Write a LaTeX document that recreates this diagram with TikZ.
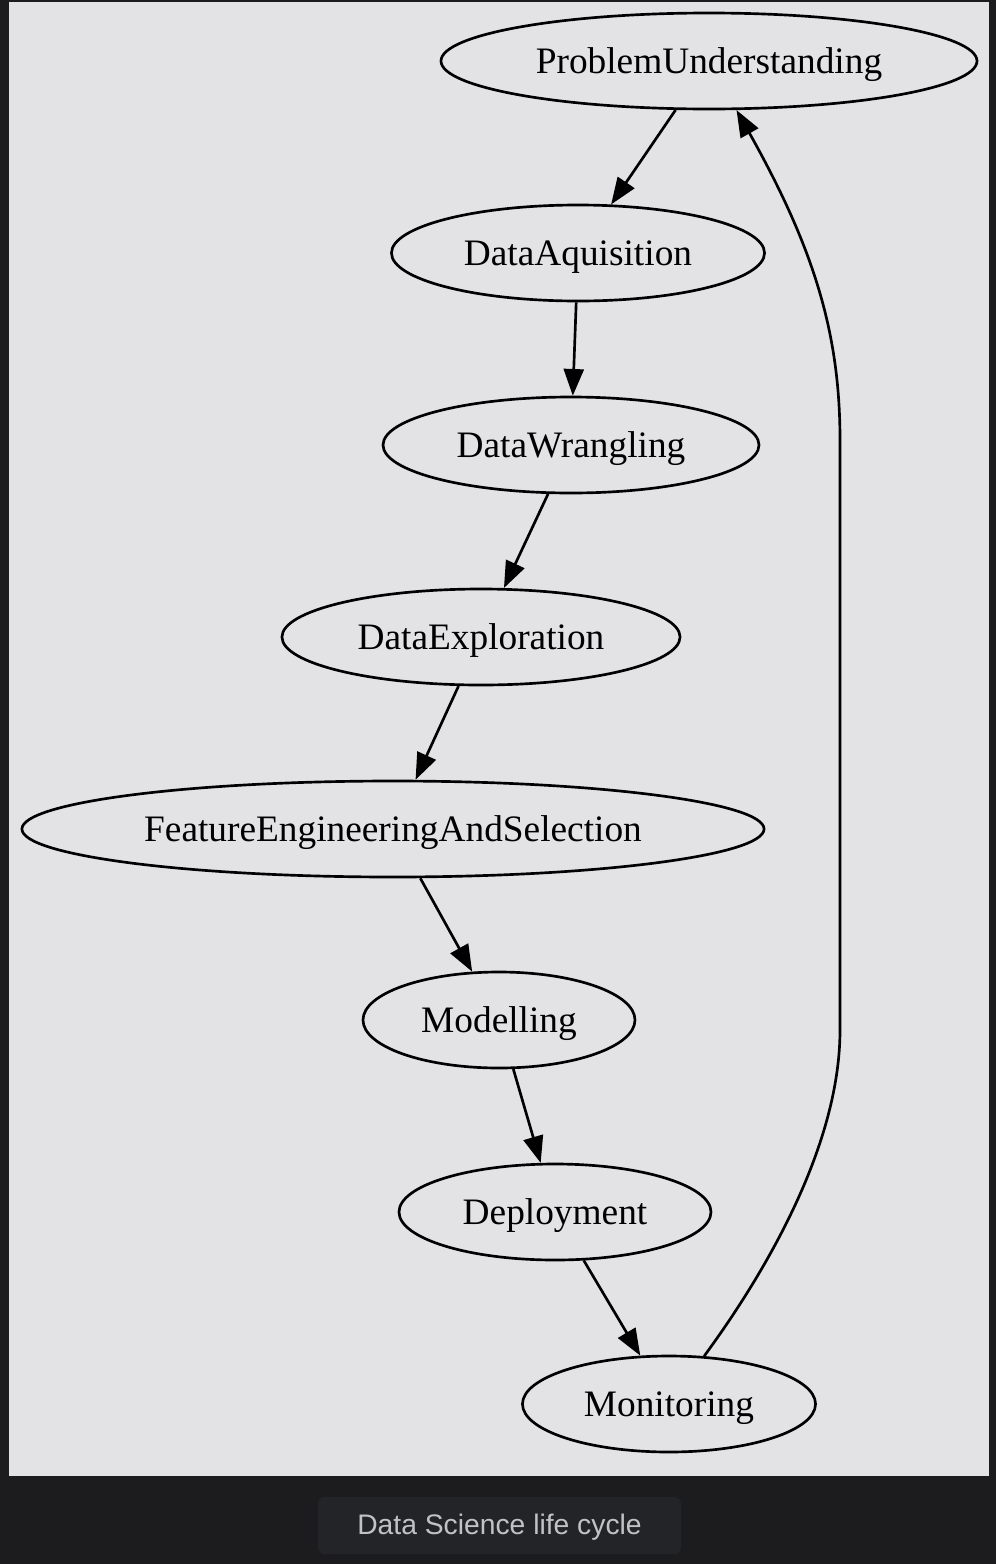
\documentclass[tikz,border=0pt]{standalone}
\usepackage{fontspec}
\setmainfont{Liberation Serif}
\newfontfamily\capfont{Liberation Sans}
\usetikzlibrary{arrows.meta,shapes.geometric}
\definecolor{pagebg}{HTML}{1C1C1E}
\definecolor{panelbg}{HTML}{E3E3E5}
\definecolor{capbg}{HTML}{232428}
\definecolor{captext}{HTML}{C2C2C6}
\begin{document}
\begin{tikzpicture}[x=0.375pt,y=-0.375pt,
  stage/.style={ellipse, draw, line width=1pt, inner sep=0pt, minimum height=36pt,
    text height=12pt, text depth=2.4pt,
    font=\fontsize{14}{16}\selectfont},
  flow/.style={line width=1pt, -{Triangle[length=10pt,width=7.5pt]}}]
\useasboundingbox (0,0) rectangle (996,1564);
\fill[pagebg] (0,0) rectangle (996,1564);
\fill[panelbg] (9,2) rectangle (989,1476);
\node[fill=capbg, rounded corners=2.5pt, minimum width=136.1pt, minimum height=21.4pt,
  inner sep=0pt, text=captext, text height=9.6pt, text depth=2.6pt,
  font=\capfont\fontsize{10.6}{12}\selectfont]
  (caption) at (499.5,1525.5) {Data Science life cycle};

\node[stage, minimum width=201pt]   (pu)  at (709,61)   {ProblemUnderstanding};
\node[stage, minimum width=139.9pt] (da)  at (578,253)  {DataAquisition};
\node[stage, minimum width=141pt]   (dw)  at (571,445)  {DataWrangling};
\node[stage, minimum width=149.3pt] (de)  at (481,637)  {DataExploration};
\node[stage, minimum width=278.3pt] (fe)  at (393,829)  {FeatureEngineeringAndSelection};
\node[stage, minimum width=102pt]   (mo)  at (499,1020) {Modelling};
\node[stage, minimum width=117pt]   (dep) at (555,1212) {Deployment};
\node[stage, minimum width=109.9pt] (mon) at (669,1404) {Monitoring};

\draw[flow] (pu) -- (da);
\draw[flow] (da) -- (dw);
\draw[flow] (dw) -- (de);
\draw[flow] (de) -- (fe);
\draw[flow] (fe) -- (mo);
\draw[flow] (mo) -- (dep);
\draw[flow] (dep) -- (mon);
\draw[flow] (mon) .. controls (760,1280) and (840,1150) .. (840,1030)
  -- (840,440) .. controls (840,335) and (815,250) .. (pu);
\end{tikzpicture}
\end{document}
